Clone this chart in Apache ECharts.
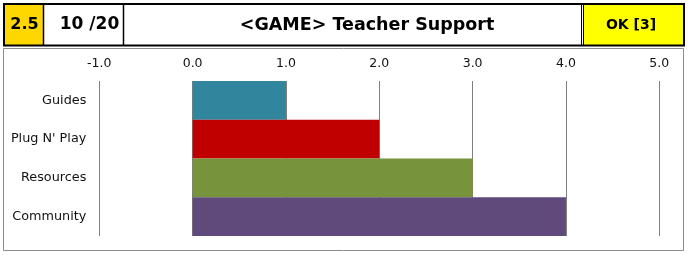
<!DOCTYPE html>
<html><head><meta charset="utf-8">
<script src="https://cdn.jsdelivr.net/npm/echarts@6/dist/echarts.min.js"></script>
<style>html,body{margin:0;padding:0;background:#fff}#c{width:688px;height:255px}</style>
</head><body><div id="c"></div>
<script>
const categories = ['Guides', "Plug N' Play", 'Resources', 'Community'];
const values = [1, 2, 3, 4];
const barColors = ['#31859C', '#C00000', '#77933C', '#604A7B'];
const scoreText = '2.5';
const pointsText = '10 /20';
const titleText = '<GAME> Teacher Support';
const statusText = 'OK [3]';

const font = '"DejaVu Sans", sans-serif';
const chart = echarts.init(document.getElementById('c'), null, {renderer: 'canvas'});
chart.setOption({
  animation: false,
  backgroundColor: '#fff',
  grid: {left: 99.3, right: 28.7, top: 81, bottom: 19, containLabel: false},
  xAxis: {
    type: 'value', position: 'top', min: -1, max: 5, interval: 1,
    axisLine: {show: false}, axisTick: {show: false},
    splitLine: {show: true, lineStyle: {color: '#808080', width: 1}},
    axisLabel: {margin: 11, color: '#111', fontFamily: font, fontSize: 12.5,
      formatter: v => v.toFixed(1)}
  },
  yAxis: {
    type: 'category', inverse: true, data: categories,
    axisLine: {show: false}, axisTick: {show: false},
    axisLabel: {margin: 13, color: '#111', fontFamily: font, fontSize: 12.8}
  },
  series: [{
    type: 'bar', barWidth: '100%', barCategoryGap: 0,
    data: values.map((v, i) => ({value: v, itemStyle: {color: barColors[i]}}))
  }],
  graphic: [
    {type: 'rect', shape: {x: 3.5, y: 48.5, width: 680, height: 202}, style: {fill: 'none', stroke: '#8c8c8c', lineWidth: 1}, z: 100},
    {type: 'rect', shape: {x: 4, y: 4, width: 39, height: 41}, style: {fill: '#FFD700'}, z: 100},
    {type: 'rect', shape: {x: 583, y: 4, width: 100, height: 41}, style: {fill: '#FFFF00'}, z: 100},
    {type: 'rect', shape: {x: 4, y: 4, width: 680, height: 41.5}, style: {fill: 'none', stroke: '#000', lineWidth: 2}, z: 101},
    {type: 'line', shape: {x1: 43.5, y1: 4, x2: 43.5, y2: 45}, style: {stroke: '#000', lineWidth: 1.5}, z: 101},
    {type: 'line', shape: {x1: 123.5, y1: 4, x2: 123.5, y2: 45}, style: {stroke: '#000', lineWidth: 1.5}, z: 101},
    {type: 'line', shape: {x1: 581.5, y1: 4, x2: 581.5, y2: 45}, style: {stroke: '#000', lineWidth: 1}, z: 101},
    {type: 'line', shape: {x1: 583.5, y1: 4, x2: 583.5, y2: 45}, style: {stroke: '#000', lineWidth: 1}, z: 101},
    {type: 'text', x: 24.5, y: 25, style: {text: scoreText, font: 'bold 16px ' + font, fill: '#000', align: 'center', verticalAlign: 'middle'}, z: 102},
    {type: 'text', x: 89.5, y: 25, style: {text: pointsText, font: 'bold 17px ' + font, fill: '#000', align: 'center', verticalAlign: 'middle'}, z: 102},
    {type: 'text', x: 367, y: 25, style: {text: titleText, font: 'bold 17.5px ' + font, fill: '#000', align: 'center', verticalAlign: 'middle'}, z: 102},
    {type: 'text', x: 631, y: 25, style: {text: statusText, font: 'bold 14px ' + font, fill: '#000', align: 'center', verticalAlign: 'middle'}, z: 102}
  ]
});
</script></body></html>
